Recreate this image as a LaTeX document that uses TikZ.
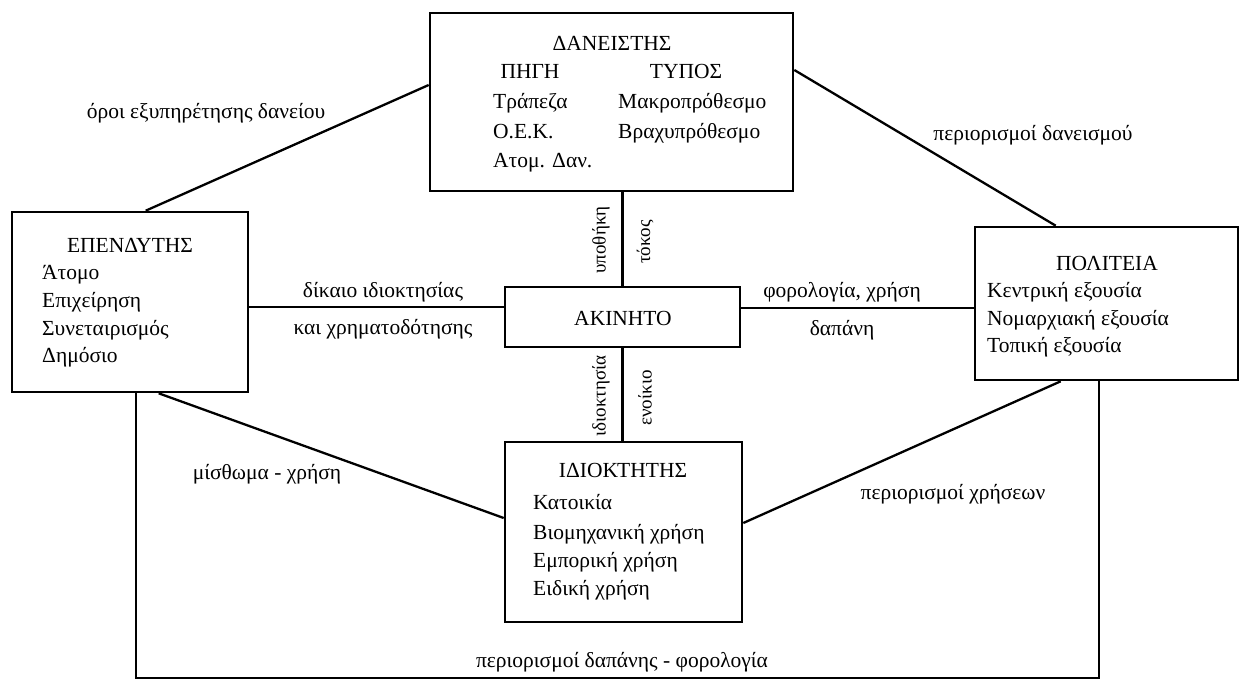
\documentclass[tikz,border=0pt]{standalone}
\usepackage{fontspec}
\setmainfont{Liberation Serif}
\usetikzlibrary{calc}
\tikzset{
  box/.style={draw, line width=2.6pt, inner sep=0pt},
  conn/.style={line width=2.3pt},
  txt/.style={font=\fontsize{21.5}{24}\selectfont, inner sep=0pt, anchor=base},
  lt/.style={txt, anchor=base west},
  vlab/.style={font=\fontsize{19}{22}\selectfont, inner sep=0pt, rotate=90}
}
\begin{document}
\begin{tikzpicture}[x=1pt,y=-1pt]
\useasboundingbox (0,0) rectangle (1241,682);
% boxes
\node[box, minimum width=363pt, minimum height=178pt] (lender) at (611.5,102) {};
\node[box, minimum width=236pt, minimum height=180pt] (investor) at (130,302) {};
\node[box, minimum width=263pt, minimum height=153pt] (gov) at (1106.5,303.5) {};
\node[box, minimum width=235pt, minimum height=60pt] (prop) at (622.5,317) {};
\node[box, minimum width=237pt, minimum height=180pt] (owner) at (623.5,532) {};
% lender text
\node[txt] (lt0) at (612,51) {ΔΑΝΕΙΣΤΗΣ};
\node[txt] (lt1) at (530,79) {ΠΗΓΗ};
\node[txt] (lt2) at (686,79) {ΤΥΠΟΣ};
\node[lt] (lt3) at (493,109) {Τράπεζα};
\node[lt] (lt4) at (493,139) {Ο.Ε.Κ.};
\node[lt] (lt5) at (493,167) {Ατομ. Δαν.};
\node[lt] (lt6) at (618,109) {Μακροπρόθεσμο};
\node[lt] (lt7) at (618,139) {Βραχυπρόθεσμο};
% investor text
\node[txt] (it0) at (130,252) {ΕΠΕΝΔΥΤΗΣ};
\node[lt] (it1) at (42,279) {Άτομο};
\node[lt] (it2) at (42,307) {Επιχείρηση};
\node[lt] (it3) at (42,335) {Συνεταιρισμός};
\node[lt] (it4) at (42,362) {Δημόσιο};
% gov text
\node[txt] (gt0) at (1107,270) {ΠΟΛΙΤΕΙΑ};
\node[lt] (gt1) at (987,297) {Κεντρική εξουσία};
\node[lt] (gt2) at (987,325) {Νομαρχιακή εξουσία};
\node[lt] (gt3) at (987,352) {Τοπική εξουσία};
% property
\node[txt] (pt0) at (623,325) {ΑΚΙΝΗΤΟ};
% owner text
\node[txt] (ot0) at (623,477) {ΙΔΙΟΚΤΗΤΗΣ};
\node[lt] (ot1) at (533,509) {Κατοικία};
\node[lt] (ot2) at (533,539) {Βιομηχανική χρήση};
\node[lt] (ot3) at (533,567) {Εμπορική χρήση};
\node[lt] (ot4) at (533,595) {Ειδική χρήση};
% connectors
\draw[conn] ($(investor.north west)+(135,0)$) -- ($(lender.west)+(0,-17)$);
\draw[conn] ($(lender.east)+(0,-32)$) -- ($(gov.north west)+(82,0)$);
\draw[conn] ($(investor.south west)+(148,0)$) -- ($(owner.west)+(0,-14)$);
\draw[conn] ($(owner.east)+(0,-9)$) -- ($(gov.south west)+(87,0)$);
\draw[conn] ($(investor.east)+(0,5)$) -- ($(prop.west)+(0,-10)$);
\draw[conn] ($(prop.east)+(0,-9)$) -- ($(gov.west)+(0,4.5)$);
\draw[conn] (lender.south -| prop.north) -- (prop.north);
\draw[conn] (prop.south) -- (owner.north -| prop.south);
\draw[conn] ($(investor.south west)+(125,0)$) -- ++(0,285) -| ($(gov.south west)+(125,0)$);
% labels
\node[txt] (l1) at (206,119) {όροι εξυπηρέτησης δανείου};
\node[txt] (l2) at (1033,140) {περιορισμοί δανεισμού};
\node[txt] (l3) at (383,297) {δίκαιο ιδιοκτησίας};
\node[txt] (l4) at (383,334) {και χρηματοδότησης};
\node[txt] (l5) at (842,297) {φορολογία, χρήση};
\node[txt] (l6) at (842,335) {δαπάνη};
\node[txt] (l7) at (267,479) {μίσθωμα - χρήση};
\node[txt] (l8) at (953,499) {περιορισμοί χρήσεων};
\node[txt] (l9) at (622,667) {περιορισμοί δαπάνης - φορολογία};
\node[vlab] (v1) at (601,240) {υποθήκη};
\node[vlab] (v2) at (645,242) {τόκος};
\node[vlab] (v3) at (601,396) {ιδιοκτησία};
\node[vlab] (v4) at (645,398) {ενοίκιο};
\end{tikzpicture}
\end{document}
